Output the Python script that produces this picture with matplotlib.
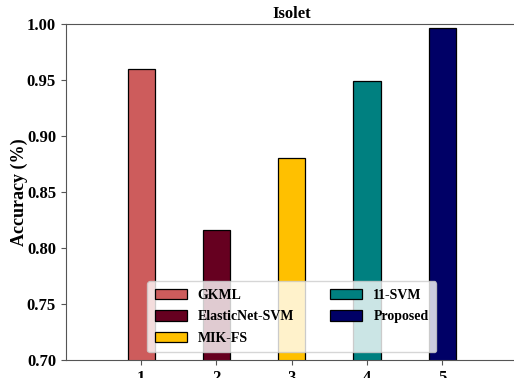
import numpy as np
import matplotlib
matplotlib.use("Agg")
import matplotlib.pyplot as plt

plt.rcParams['font.family'] = ['Liberation Serif', 'DejaVu Serif']
plt.rcParams['font.weight'] = 'bold'

methods = ['GKML', 'ElasticNet-SVM', 'MIK-FS', '11-SVM', 'Proposed']
positions = [1, 2, 3, 4, 5]
accuracy = [0.960, 0.816, 0.880, 0.949, 0.996]
colors = ['#CD5C5C', '#660020', '#FFC000', '#008080', '#000066']

fig = plt.figure(figsize=(5.14, 3.78), dpi=100)
ax = fig.add_axes([0.128, 0.0476, 0.879, 0.889])

for x, acc, c, name in zip(positions, accuracy, colors, methods):
    ax.bar(x, acc, width=0.36, color=c, edgecolor='black', linewidth=0.9, label=name)

ax.set_xlim(0, 6)
ax.set_ylim(0.70, 1.00)
ax.set_xticks(positions)
ax.set_yticks([0.70, 0.75, 0.80, 0.85, 0.90, 0.95, 1.00])
ax.set_yticklabels(['0.70', '0.75', '0.80', '0.85', '0.90', '0.95', '1.00'])
ax.tick_params(labelsize=12, color='#555555')
ax.set_ylabel('Accuracy (%)', fontsize=13, fontweight='bold', labelpad=-1)
ax.set_title('Isolet', fontsize=12, fontweight='bold', pad=4)

for s in ax.spines.values():
    s.set_color('#555555')

ax.legend(loc='lower center', ncol=2, fontsize=10, handlelength=2.3,
          handleheight=0.8, labelspacing=0.6, columnspacing=2.6,
          borderaxespad=0.55, borderpad=0.55)

plt.savefig('out.png', dpi=100)
